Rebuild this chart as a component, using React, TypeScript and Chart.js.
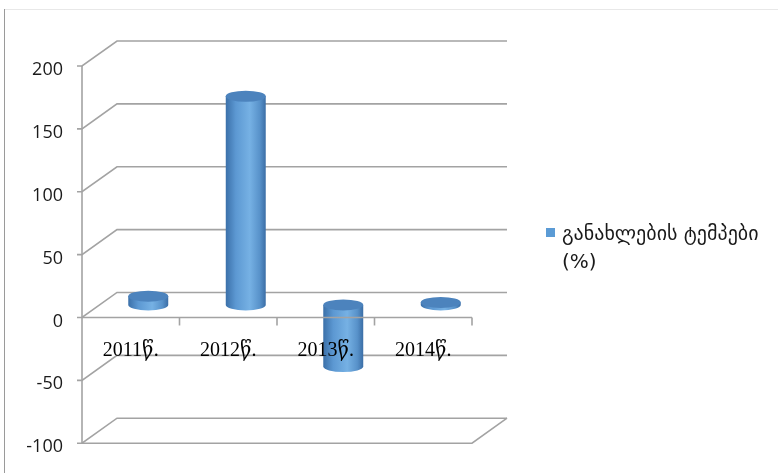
import React, { useEffect, useRef } from 'react';
import { Chart, registerables } from 'chart.js';

Chart.register(...registerables);

// ---- data ----
const categories = ['2011წ.', '2012წ.', '2013წ.', '2014წ.'];
const seriesLabel = 'განახლების ტემპები (%)';
const legendLines = ['განახლების ტემპები', '(%)'];
const values = [7, 166, -49, 2];
const yTickMin = -100;
const yTickMax = 200;
const yTickStep = 50;

// ---- styles ----
const DEPTH_X = 35;
const DEPTH_Y = 25;
const GRID = '#a3a3a3';
const LEGEND_BLUE = '#5b9bd5';

const threeD = {
  id: 'threeD',
  beforeDraw(chart: any) {
    const ctx = chart.ctx;
    ctx.save();
    ctx.fillStyle = '#ffffff';
    ctx.fillRect(0, 0, chart.width, chart.height);
    ctx.lineWidth = 1;
    ctx.strokeStyle = '#e8e8e8';
    ctx.beginPath();
    ctx.moveTo(4, 9.5);
    ctx.lineTo(chart.width, 9.5);
    ctx.stroke();
    ctx.strokeStyle = '#9a9a9a';
    ctx.beginPath();
    ctx.moveTo(4.5, 9);
    ctx.lineTo(4.5, chart.height);
    ctx.stroke();
    ctx.restore();
  },
  beforeDatasetsDraw(chart: any) {
    const ctx = chart.ctx;
    const ys = chart.scales.y;
    const { left, right } = chart.chartArea;
    ctx.save();
    ctx.strokeStyle = GRID;
    ctx.lineWidth = 1.6;
    const ticks = ys.ticks.map((t: any) => t.value);
    ticks.forEach((v: number) => {
      const y = ys.getPixelForValue(v);
      ctx.beginPath();
      ctx.moveTo(left - 5, y);
      ctx.lineTo(left, y);
      ctx.lineTo(left + DEPTH_X, y - DEPTH_Y);
      ctx.lineTo(right + DEPTH_X, y - DEPTH_Y);
      ctx.stroke();
    });
    // floor at minimum
    const yb = ys.getPixelForValue(yTickMin);
    ctx.beginPath();
    ctx.moveTo(left, yb);
    ctx.lineTo(right, yb);
    ctx.lineTo(right + DEPTH_X, yb - DEPTH_Y);
    ctx.stroke();
    // vertical axis
    ctx.beginPath();
    ctx.moveTo(left, ys.getPixelForValue(yTickMax));
    ctx.lineTo(left, yb);
    ctx.stroke();
    ctx.restore();
  },
  afterDatasetsDraw(chart: any) {
    const ctx = chart.ctx;
    const ys = chart.scales.y;
    const xs = chart.scales.x;
    const { left, right } = chart.chartArea;
    const meta = chart.getDatasetMeta(0);
    const data = chart.data.datasets[0].data;
    ctx.save();
    meta.data.forEach((bar: any, i: number) => {
      const v = data[i];
      const cx = bar.x + DEPTH_X / 2;
      const yv = ys.getPixelForValue(v) - DEPTH_Y / 2;
      const y0 = ys.getPixelForValue(0) - DEPTH_Y / 2;
      const yTop = Math.min(yv, y0);
      const yBot = Math.max(yv, y0);
      const rx = bar.width / 2;
      const ry = 5.5;
      const g = ctx.createLinearGradient(cx - rx, 0, cx + rx, 0);
      g.addColorStop(0, '#3b70a9');
      g.addColorStop(0.25, '#5c98d2');
      g.addColorStop(0.6, '#76b1e4');
      g.addColorStop(0.85, '#5892ca');
      g.addColorStop(1, '#3b6ea6');
      ctx.fillStyle = g;
      ctx.beginPath();
      ctx.moveTo(cx - rx, yTop);
      ctx.lineTo(cx - rx, yBot);
      ctx.ellipse(cx, yBot, rx, ry, 0, Math.PI, 0, true);
      ctx.lineTo(cx + rx, yTop);
      ctx.closePath();
      ctx.fill();
      ctx.fillStyle = '#4c83bd';
      ctx.beginPath();
      ctx.ellipse(cx, yTop, rx, ry, 0, 0, Math.PI * 2);
      ctx.fill();
    });
    // front edge of the floor at zero, with category tick marks
    const y0 = ys.getPixelForValue(0);
    ctx.strokeStyle = GRID;
    ctx.lineWidth = 1.6;
    ctx.beginPath();
    ctx.moveTo(left, y0);
    ctx.lineTo(right, y0);
    ctx.stroke();
    for (let i = 0; i < categories.length; i++) {
      const b = i < categories.length - 1
        ? (xs.getPixelForValue(i) + xs.getPixelForValue(i + 1)) / 2
        : right;
      ctx.beginPath();
      ctx.moveTo(b, y0);
      ctx.lineTo(b, y0 + 8);
      ctx.stroke();
    }
    ctx.restore();
  },
  afterDraw(chart: any) {
    const ctx = chart.ctx;
    const { right } = chart.chartArea;
    const lx = right + 74;
    const ly = 228;
    ctx.save();
    ctx.fillStyle = LEGEND_BLUE;
    ctx.fillRect(lx, ly, 9, 9);
    ctx.fillStyle = '#1a1a1a';
    ctx.font = "20px 'DejaVu Sans'";
    ctx.textBaseline = 'alphabetic';
    ctx.textAlign = 'left';
    legendLines.forEach((line, i) => {
      ctx.fillText(line, lx + 16, ly + 12 + i * 28);
    });
    ctx.restore();
  },
};

export default function App() {
  const ref = useRef<HTMLCanvasElement | null>(null);
  useEffect(() => {
    if (!ref.current) return;
    const chart = new Chart(ref.current, {
      type: 'bar',
      data: {
        labels: categories,
        datasets: [
          {
            label: seriesLabel,
            data: values,
            backgroundColor: 'rgba(0,0,0,0)',
            borderWidth: 0,
            barPercentage: 0.41,
            categoryPercentage: 1,
          },
        ],
      },
      options: {
        responsive: false,
        animation: false,
        layout: { padding: { left: 0, right: 306, top: 66, bottom: 26 } },
        plugins: { legend: { display: false }, tooltip: { enabled: false } },
        scales: {
          x: {
            position: { y: 0 },
            grid: { display: false, drawTicks: false },
            border: { display: false },
            ticks: {
              z: 1,
              padding: 21,
              color: '#000000',
              font: { family: "'Liberation Serif', 'DejaVu Serif'", size: 20 },
              maxRotation: 0,
            },
            afterFit(scale: any) {
              scale.height = 0;
            },
          },
          y: {
            min: yTickMin,
            max: yTickMax,
            grid: { display: false, drawTicks: false },
            border: { display: false },
            ticks: {
              stepSize: yTickStep,
              padding: 19,
              labelOffset: 4,
              color: '#1a1a1a',
              font: { family: "'Open Sans'", size: 18 },
            },
            afterFit(scale: any) {
              scale.width = 82;
            },
          },
        },
      },
      plugins: [threeD],
    });
    return () => chart.destroy();
  }, []);
  return (
    <div style={{ position: 'fixed', left: 0, top: 0, width: 778, height: 473 }}>
      <canvas ref={ref} width={778} height={473} />
    </div>
  );
}
